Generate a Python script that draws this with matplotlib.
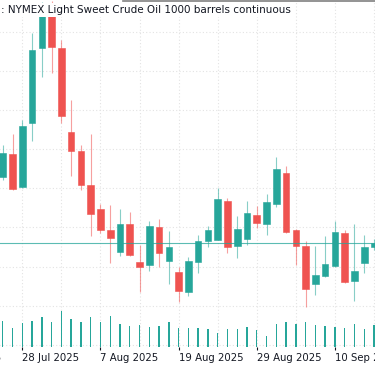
import numpy as np
import pandas as pd
import matplotlib
matplotlib.use("Agg")
import matplotlib.pyplot as plt
from matplotlib.lines import Line2D

# daily candles, 24 Jul 2025 .. 16 Sep 2025 (business days)
dates = pd.bdate_range("2025-07-24", periods=39)
opens = [65.29, 65.87, 65.03, 66.67, 68.58, 69.62, 68.58, 66.44, 65.95, 65.08,
         64.47, 63.93, 63.37, 64.09, 63.12, 63.04, 64.01, 63.15, 62.87, 62.36,
         63.11, 63.65, 63.68, 64.68, 63.53, 63.70, 64.32, 64.09, 64.60, 65.38,
         63.93, 63.52, 62.55, 62.77, 63.02, 63.86, 62.64, 63.08, 63.49]
highs = [66.10, 66.39, 66.74, 68.97, 69.75, 69.78, 68.79, 67.25, 66.10, 66.39,
         64.60, 64.57, 64.47, 64.40, 63.55, 64.17, 64.21, 63.92, 62.99, 63.25,
         63.81, 64.04, 65.00, 64.74, 64.29, 64.68, 64.55, 64.85, 65.81, 65.57,
         63.95, 63.65, 63.52, 63.78, 64.17, 63.93, 64.08, 63.81, 63.70]
lows = [65.21, 64.96, 65.01, 66.21, 67.84, 67.94, 66.67, 65.31, 64.96, 63.78,
        63.86, 63.09, 63.27, 63.27, 62.35, 62.89, 62.99, 62.55, 62.10, 62.25,
        62.84, 63.51, 63.68, 63.35, 63.21, 63.55, 63.99, 63.81, 64.51, 63.85,
        63.04, 61.96, 62.27, 62.72, 62.99, 62.59, 62.13, 62.84, 63.42]
closes = [65.90, 64.98, 66.59, 68.53, 69.66, 68.61, 66.85, 65.95, 65.08, 64.34,
          63.93, 63.73, 64.09, 63.30, 63.00, 64.04, 63.35, 63.51, 62.38, 63.14,
          63.65, 63.93, 64.73, 63.49, 63.96, 64.36, 64.10, 64.64, 65.48, 63.89,
          63.52, 62.42, 62.78, 63.06, 63.87, 62.61, 62.89, 63.49, 63.59]
# volume, thousand contracts
volumes = [263, 186, 240, 263, 300, 246, 363, 283, 253, 300,
           246, 306, 233, 206, 223, 200, 206, 250, 193, 193,
           193, 183, 136, 176, 180, 200, 173, 110, 233, 253,
           226, 253, 220, 210, 196, 193, 233, 180, 220]

tick_idx = [-6, 2, 10, 18, 26, 34]
tick_labels = ["16 Jul 2025", "28 Jul 2025", "7 Aug 2025",
               "19 Aug 2025", "29 Aug 2025", "10 Sep 2025"]
title = ": NYMEX Light Sweet Crude Oil 1000 barrels continuous"

UP = "#26a69a"
DOWN = "#ef5350"

W, H = 375, 366
fig = plt.figure(figsize=(W / 100, H / 100), dpi=100)
# the pane is wider than the picture: chart is cut at both sides
ax = fig.add_axes([-60 / W, 19 / H, 460 / W, 346 / H])

x = np.arange(len(dates))
o = np.array(opens)
c = np.array(closes)
cols = [UP if cc >= oo else DOWN for oo, cc in zip(o, c)]

ax.vlines(x, lows, highs, colors=cols, lw=0.8, alpha=0.55, zorder=2)
ax.bar(x, np.maximum(np.abs(c - o), 0.03), bottom=np.minimum(o, c), width=0.68,
       color=cols, edgecolor=cols, linewidth=0.4, zorder=3)
ax.axhline(closes[-1], color=UP, lw=0.8, alpha=0.75, zorder=4)

ax.set_xlim(-6.424, 40.66)
ax.set_ylim(60.944, 69.784)

ax.set_yticks(range(61, 70))
ax.set_xticks(tick_idx)
ax.set_xticklabels(tick_labels)
ax.set_xticks(np.arange(-6, 41, 4), minor=True)
grid_kw = dict(color="#e3e3e3", lw=0.8, linestyle=(0, (1, 2)))
ax.grid(True, which="both", axis="x", **grid_kw)
ax.grid(True, which="major", axis="y", **grid_kw)
ax.set_axisbelow(True)

ax.tick_params(axis="y", left=False, labelleft=False)
ax.tick_params(axis="x", which="major", length=2, width=0.8, color="#131722",
               pad=2, labelsize=7.3, labelcolor="#131722")
ax.tick_params(axis="x", which="minor", length=0)
for lbl in ax.get_xticklabels():
    lbl.set_horizontalalignment("left")
for s in ax.spines.values():
    s.set_visible(False)

vax = ax.twinx()
vax.bar(x, volumes, width=0.14, color=UP, zorder=1)
vax.set_ylim(0, 3460)
vax.axis("off")

fig.text(1 / W, 1 - 10 / H, title, ha="left", va="center", fontsize=7.5,
         color="#131722", bbox=dict(fc="white", ec="none", pad=1.2))
fig.add_artist(Line2D([123 / W, 1], [1 - 1 / H, 1 - 1 / H],
                      color="#808080", lw=1.2))

fig.savefig("out.png", dpi=100)
